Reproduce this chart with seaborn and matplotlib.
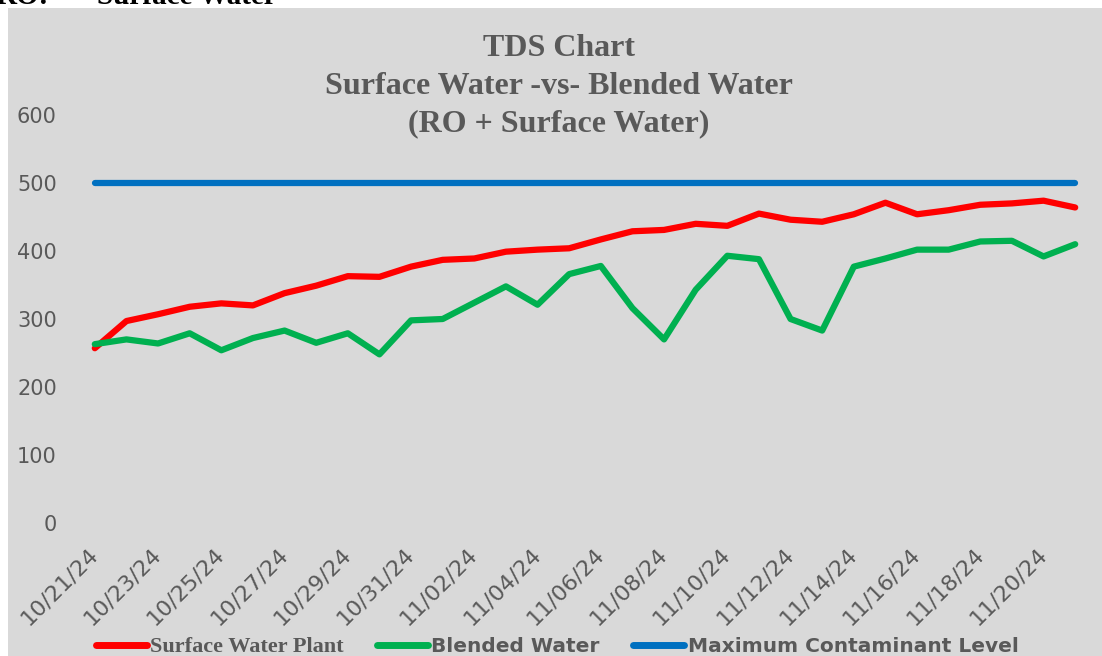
import pandas as pd
import matplotlib.pyplot as plt
import matplotlib.transforms as mtransforms
import seaborn as sns
from matplotlib.patches import Rectangle

# TDS readings
dates = ['2024-10-21', '2024-10-22', '2024-10-23', '2024-10-24', '2024-10-25',
         '2024-10-26', '2024-10-27', '2024-10-28', '2024-10-29', '2024-10-30',
         '2024-10-31', '2024-11-01', '2024-11-02', '2024-11-03', '2024-11-04',
         '2024-11-05', '2024-11-06', '2024-11-07', '2024-11-08', '2024-11-09',
         '2024-11-10', '2024-11-11', '2024-11-12', '2024-11-13', '2024-11-14',
         '2024-11-15', '2024-11-16', '2024-11-17', '2024-11-18', '2024-11-19',
         '2024-11-20', '2024-11-21']
surface_water = [257, 297, 307, 318, 323, 320, 338, 349, 363, 362,
                 377, 387, 389, 399, 402, 404, 417, 429, 431, 440,
                 437, 455, 446, 443, 454, 471, 454, 460, 468, 470,
                 474, 464]
blended_water = [263, 270, 264, 279, 254, 272, 283, 265, 279, 248,
                 298, 300, 324, 348, 321, 366, 378, 316, 270, 343,
                 393, 388, 300, 283, 377, 389, 402, 402, 414, 415,
                 392, 410]
mcl = [500] * len(dates)

series_names = ['Surface Water Plant', 'Blended Water', 'Maximum Contaminant Level']
colors = ['#FF0000', '#00B050', '#0070C0']

df = pd.DataFrame({'Date': pd.to_datetime(dates),
                   series_names[0]: surface_water,
                   series_names[1]: blended_water,
                   series_names[2]: mcl})
long_df = df.melt(id_vars='Date', var_name='Series', value_name='TDS')

sns.set_style('white')
plt.rcParams['font.family'] = ['DejaVu Sans']
gray_text = '#595959'

fig = plt.figure(figsize=(11.02, 6.56), dpi=100, facecolor='white')
fig.patches.append(Rectangle((8 / 1102, 0), 1, (656 - 8) / 656, transform=fig.transFigure,
                             facecolor='#D9D9D9', edgecolor='none', zorder=-5))

# cut-off heading from the document above the chart
fig.text(-4 / 1102, 1 - 4 / 656, 'RO:', fontsize=21, fontweight='bold',
         family='Liberation Serif', color='black', va='baseline')
fig.text(97 / 1102, 1 - 4 / 656, 'Surface Water', fontsize=21, fontweight='bold',
         family='Liberation Serif', color='black', va='baseline')

ax = fig.add_axes([79 / 1102, (656 - 523) / 656, (1091 - 79) / 1102, (523 - 115) / 656])
ax.set_facecolor('none')
ax.set_zorder(2)

sns.lineplot(data=long_df, x='Date', y='TDS', hue='Series', hue_order=series_names,
             palette=colors, linewidth=4.5, ax=ax, legend=False,
             solid_capstyle='round')

ax.set_ylim(0, 600)
ax.set_yticks(range(0, 601, 100))
ax.set_xlim(df['Date'].iloc[0] - pd.Timedelta(hours=12),
            df['Date'].iloc[-1] + pd.Timedelta(hours=12))
tick_dates = df['Date'].iloc[::2]
ax.set_xticks(tick_dates)
ax.set_xticklabels([d.strftime('%m/%d/%y') for d in tick_dates], rotation=45,
                   ha='right', va='center', rotation_mode='anchor')
shift = mtransforms.ScaledTranslation(-6 / 100, 0, fig.dpi_scale_trans)
for lbl in ax.get_xticklabels():
    lbl.set_transform(lbl.get_transform() + shift)
ax.tick_params(axis='y', length=0, pad=16, labelsize=15, labelcolor=gray_text)
ax.tick_params(axis='x', length=0, pad=20, labelsize=16, labelcolor=gray_text)
ax.set_xlabel('')
ax.set_ylabel('')
for s in ax.spines.values():
    s.set_visible(False)
ax.grid(False)

title_lines = ['TDS Chart', 'Surface Water -vs- Blended Water', '(RO + Surface Water)']
for line, ypx in zip(title_lines, [49, 87, 124]):
    fig.text(559 / 1102, 1 - ypx / 656, line, ha='center', va='center', fontsize=23,
             fontweight='bold', family='Liberation Serif', color=gray_text)

handles = [plt.Line2D([], [], color=c, linewidth=5, solid_capstyle='round') for c in colors]
leg = fig.legend(handles, series_names, loc='center', bbox_to_anchor=(557 / 1102, 9 / 656),
                 ncol=3, frameon=False, handlelength=2.3, handletextpad=0.15,
                 columnspacing=1.5, fontsize=16)
for i, t in enumerate(leg.get_texts()):
    t.set_color(gray_text)
    t.set_fontweight('bold')
    if i == 0:
        t.set_fontfamily('Liberation Serif')
    else:
        t.set_fontsize(14.5)

fig.savefig('out.png', dpi=100, facecolor='white')
